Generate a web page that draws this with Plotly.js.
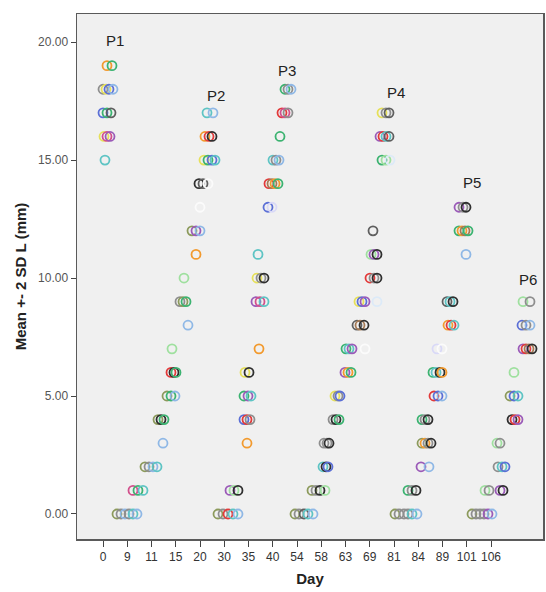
<!DOCTYPE html>
<html>
<head>
<meta charset="utf-8">
<script src="https://cdn.plot.ly/plotly-3.0.1.min.js"></script>
<style>html,body{margin:0;padding:0;background:#fff;}#chart{width:546px;height:592px;}</style>
</head>
<body>
<div id="chart"></div>
<script>
// Categorical day axis (tick i = category index i)
const days = ['0','9','11','15','20','30','35','40','54','58','63','69','81','84','89','101','106'];
const yTicks = [0, 5, 10, 15, 20];

// Palette codes used for the circles
const palette = {
  gr:'#3cb371', lg:'#9fe09f', tl:'#5ec4c4', lb:'#8fb8e6', bl:'#5b6fd6', pu:'#9b5bb8',
  pk:'#d2508c', re:'#e23a3a', or:'#f29a2e', ye:'#e6e05a', ol:'#8c9a5c', bk:'#2f2f2f',
  dg:'#5f5f5f', gy:'#8e8e8e', br:'#a57a55', wh:'#fbfbfb', lv:'#d9d9f7', fl:'#dceaf8'
};

// Segment 1: peak P1
const seg1X = [0.165,0.371, 0,0.124,0.247,0.412, 0,0.165,0.330, 0.041,0.165,0.289, 0.082];
const seg1Y = [19,19, 18,18,18,18, 17,17,17, 16,16,16, 15];
const seg1C = ['or','gr', 'gy','ye','bl','lb', 'bl','gr','dg', 'ye','pk','pu', 'tl'];

// Segment 2: rise to P2
const seg2X = [0.577,0.742,0.907,1.072,1.237,1.402, 1.237,1.443,1.649, 1.732,1.897,2.062,2.227, 2.474,
  2.268,2.392,2.515, 2.639,2.804,2.969, 2.804,2.928,3.010, 2.845, 3.505, 3.175,3.299,3.423, 3.340, 3.835,
  3.670,3.835,4.000, 4.000, 3.959,4.124,4.330, 4.165,4.330,4.495,4.619, 4.206,4.371,4.495, 4.289,4.536];
const seg2Y = [0,0,0,0,0,0, 1,1,1, 2,2,2,2, 3, 4,4,4, 5,5,5, 6,6,6, 7, 8, 9,9,9, 10, 11,
  12,12,12, 13, 14,14,14, 15,15,15,15, 16,16,16, 17,17];
const seg2C = ['ol','gy','lb','gy','tl','lb', 'pk','gr','tl', 'ol','gy','lb','tl', 'lb', 'ol','bk','gr',
  'ol','gr','lb', 're','bk','gr', 'lg', 'lb', 'gy','ol','gr', 'lg', 'or', 'ol','pu','lb', 'wh',
  'bk','dg','wh', 'ye','gr','bl','tl', 'or','re','bk', 'tl','lb'];

// Segment 3: rise to P3
const seg3X = [4.742,4.948,5.155,5.361,5.567, 5.237,5.402,5.567, 5.938, 5.814,5.938,6.062, 5.814,5.979,6.103,
  5.856,6.021, 6.433, 6.309,6.474,6.639, 6.351,6.515,6.639, 6.392, 6.804,6.969, 6.845,6.969,7.093,7.216,
  7.010,7.134,7.258, 7.299, 7.381,7.505,7.629, 7.505,7.629,7.753];
const seg3Y = [0,0,0,0,0, 1,1,1, 3, 4,4,4, 5,5,5, 6,6, 7, 9,9,9, 10,10,10, 11, 13,13, 14,14,14,14,
  15,15,15, 16, 17,17,17, 18,18,18];
const seg3C = ['ol','gy','re','tl','lb', 'pu','lg','bk', 'or', 'bl','re','gy', 'gr','pu','tl', 'ye','bk', 'or',
  'pu','pk','tl', 'ye','gy','bk', 'tl', 'bl','lv', 're','br','or','gr', 'tl','gy','lb', 'gr',
  're','pk','gy', 'gr','gy','lb'];

// Segment 4: rise to P4
const seg4X = [7.918,8.082,8.289,8.454,8.660, 8.619,8.784,8.948,9.155, 9.072,9.196,9.278, 9.113,9.237,9.320,
  9.485,9.608,9.732, 9.567,9.691,9.773, 9.979,10.103,10.227, 10.021,10.144,10.268,10.804,
  10.474,10.598,10.763, 10.557,10.680,10.804,11.299, 11.010,11.175,11.299, 11.052,11.175,11.299, 11.134,
  11.505,11.670,11.835, 11.423,11.546,11.670,11.794, 11.505,11.670,11.794];
const seg4Y = [0,0,0,0,0, 1,1,1,1, 2,2,2, 3,3,3, 4,4,4, 5,5,5, 6,6,6, 7,7,7,7, 8,8,8, 9,9,9,9,
  10,10,10, 11,11,11, 12, 15,15,15, 16,16,16,16, 17,17,17];
const seg4C = ['ol','gy','dg','tl','lb', 'ol','gy','bk','lg', 'tl','bk','bl', 'gy','gy','bk', 'gy','bk','gr',
  'ye','gy','bl', 'pu','or','gr', 'gr','tl','pu','wh', 'dg','br','bk', 'ye','bl','pu','fl',
  're','gy','bk', 'lg','pu','bk', 'dg', 'gr','lg','fl', 'pu','re','tl','dg', 'ye','gy','dg'];

// Segment 5: rise to P5
const seg5X = [12.041,12.206,12.412,12.577,12.742,12.948, 12.577,12.742,12.907, 13.113,13.443,
  13.155,13.278,13.402,13.526, 13.155,13.278,13.402, 13.649,13.814,13.979, 13.608,13.732,13.897,13.979,
  13.773,13.979, 14.227,14.351,14.474, 14.186,14.309,14.433, 14.969, 14.680,14.804,14.928,15.052,
  14.680,14.845,14.969];
const seg5Y = [0,0,0,0,0,0, 1,1,1, 2,2, 3,3,3,3, 4,4,4, 5,5,5, 6,6,6,6, 7,7, 8,8,8, 9,9,9, 11,
  12,12,12,12, 13,13,13];
const seg5C = ['ol','gy','gy','gy','tl','lb', 'gr','gy','bk', 'pu','lb', 'ol','or','gy','bk', 'gr','gy','bk',
  're','bl','lb', 'gr','tl','bk','or', 'lv','wh', 'or','re','tl', 'dg','tl','bk', 'lb',
  'gr','or','br','gr', 'pu','gy','bk'];

// Segment 6: rise to P6
const seg6X = [15.216,15.381,15.546,15.711,15.876,16.041, 15.753,15.918,16.371,16.495, 16.289,16.454,16.577,
  16.247,16.371, 16.866,16.990,17.113, 16.784,16.948,17.113, 16.948, 17.320,17.443,17.567,17.691,
  17.278,17.443,17.608, 17.320,17.608];
const seg6Y = [0,0,0,0,0,0, 1,1,1,1, 2,2,2, 3,3, 4,4,4, 5,5,5, 6, 7,7,7,7, 8,8,8, 9,9];
const seg6C = ['ol','gy','gy','gy','pu','lb', 'lg','gy','pu','bk', 'gy','tl','bl', 'lg','gy', 'bk','re','pu',
  'ol','bl','tl', 'lg', 'pu','re','br','bk', 'bl','gy','lb', 'lg','gy'];

// Peak labels
const peakNames = ['P1','P2','P3','P4','P5','P6'];
const peakX = [0.49, 4.66, 7.59, 12.08, 15.22, 17.53];
const peakY = [20.05, 17.75, 18.8, 17.85, 14.05, 9.95];

const segments = [[seg1X,seg1Y,seg1C],[seg2X,seg2Y,seg2C],[seg3X,seg3Y,seg3C],
                  [seg4X,seg4Y,seg4C],[seg5X,seg5Y,seg5C],[seg6X,seg6Y,seg6C]];

const traces = segments.map(function(s){
  return {
    type:'scatter', mode:'markers', x:s[0], y:s[1], hoverinfo:'skip', showlegend:false,
    marker:{symbol:'circle-open', size:9, color:s[2].map(function(k){return palette[k];}),
            line:{width:1.8}}
  };
});

const fontFam = 'Arial, "Liberation Sans", sans-serif';
const layout = {
  width:546, height:592,
  margin:{l:77, r:3, t:14, b:53, pad:0},
  paper_bgcolor:'#ffffff', plot_bgcolor:'#f0f0f0',
  font:{family:fontFam, size:12, color:'#333'},
  xaxis:{
    range:[-1.072, 18.144], tickmode:'array', tickvals:days.map(function(d,i){return i;}), ticktext:days,
    showgrid:false, zeroline:false, showline:true, mirror:true, linecolor:'#5a5a5a', linewidth:1.5,
    ticks:'outside', ticklen:6, tickcolor:'#444', tickwidth:1,
    tickfont:{family:fontFam, size:12, color:'#333'},
    title:{text:'<b>Day</b>', font:{family:fontFam, size:15, color:'#222'}, standoff:10}
  },
  yaxis:{
    range:[-1.06, 21.19], tickmode:'array', tickvals:yTicks, ticktext:yTicks.map(function(v){return v.toFixed(2);}),
    showgrid:false, zeroline:false, showline:true, mirror:true, linecolor:'#5a5a5a', linewidth:1.5,
    ticks:'outside', ticklen:5, tickcolor:'#444', tickwidth:1,
    tickfont:{family:fontFam, size:12, color:'#555'},
    title:{text:'<b>Mean +- 2 SD L (mm)</b>', font:{family:fontFam, size:15, color:'#222'}, standoff:8}
  },
  annotations: peakNames.map(function(n,i){
    return {x:peakX[i], y:peakY[i], xref:'x', yref:'y', text:n, showarrow:false,
            font:{family:fontFam, size:15, color:'#222'}};
  })
};

Plotly.newPlot('chart', traces, layout, {staticPlot:true, displayModeBar:false});
</script>
</body>
</html>
